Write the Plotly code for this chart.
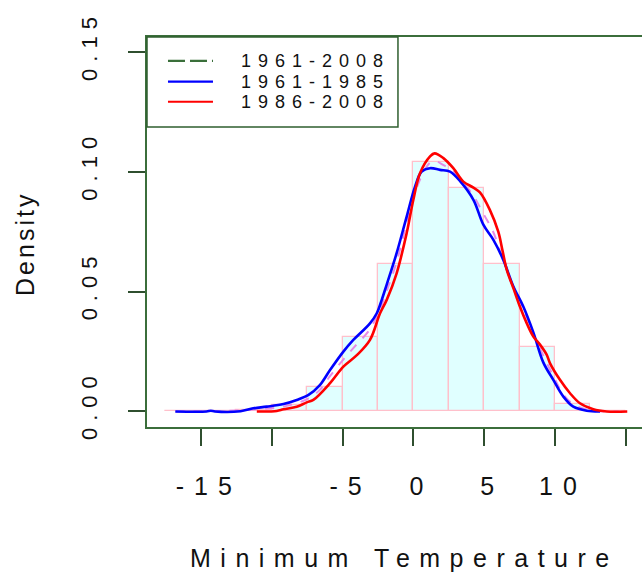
import plotly.graph_objects as go

# ---------------- data ----------------
bin_left = [-17.5, -15.0, -12.5, -10.0, -7.5, -5.0, -2.5, 0.0, 2.5, 5.0, 7.5, 10.0, 12.5]
bin_width = 2.5
hist_density = [0.0002, 0.0003, 0.0008, 0.0027, 0.0104, 0.031, 0.0616, 0.104,
                0.0933, 0.0615, 0.0268, 0.003, 0.0002]

all_x = [-16.8, -14.0, -12.2, -11.3, -10.3, -9.2, -8.2, -7.4, -6.6, -5.9, -4.9, -4.0,
         -3.1, -2.4, -1.9, -1.2, -0.5, 0.1, 0.6, 1.2, 1.6, 2.1, 2.8, 3.5, 4.2, 4.9,
         5.6, 6.3, 7.0, 7.7, 8.5, 9.2, 9.9, 10.6, 11.3, 12.2, 13.2, 14.5]
all_y = [0.0, 0.0002, 0.0004, 0.0008, 0.0012, 0.002, 0.0035, 0.0055, 0.009, 0.0146,
         0.022, 0.028, 0.034, 0.042, 0.05, 0.062, 0.078, 0.091, 0.0985, 0.104, 0.1045,
         0.103, 0.1005, 0.0955, 0.0905, 0.083, 0.0755, 0.064, 0.053, 0.044, 0.032,
         0.023, 0.0145, 0.007, 0.003, 0.0008, 0.0001, 0.0]

early_x = [-16.8, -14.6, -14.3, -14.0, -12.2, -11.3, -10.35, -9.17, -8.23, -7.4, -6.6,
           -5.88, -4.94, -4.3, -3.99, -3.06, -2.58, -2.23, -1.88, -1.18, -0.47, 0.12,
           0.59, 1.18, 1.88, 2.59, 3.3, 4.24, 4.94, 5.65, 6.35, 7.06, 7.76, 8.47, 9.17,
           9.88, 10.59, 11.29, 12.24, 13.18]
early_y = [0.0, 0.0, 0.0003, 0.0, 0.0001, 0.0013, 0.002, 0.0031, 0.0048, 0.0069, 0.011,
           0.0173, 0.025, 0.0295, 0.0313, 0.0368, 0.041, 0.0466, 0.053, 0.0661, 0.0814,
           0.0939, 0.1002, 0.1016, 0.1009, 0.1002, 0.0962, 0.0884, 0.078, 0.0717, 0.0633,
           0.0522, 0.0438, 0.033, 0.0205, 0.0132, 0.0062, 0.002, 0.0003, 0.0]

late_x = [-11.05, -9.64, -9.17, -8.23, -7.52, -7.06, -5.88, -4.94, -3.99, -3.06, -2.35,
          -1.88, -1.18, -0.47, 0.0, 0.47, 1.18, 1.5, 2.12, 2.82, 3.53, 4.24, 4.7, 5.4,
          6.0, 6.3, 6.6, 7.06, 7.52, 8.0, 8.47, 8.94, 9.41, 9.65, 10.35, 11.06, 11.76,
          12.7, 13.65, 15.1]
late_y = [0.0, 0.0002, 0.0009, 0.002, 0.0038, 0.0048, 0.0118, 0.0187, 0.0235, 0.0299,
          0.041, 0.0466, 0.0577, 0.0745, 0.0884, 0.0995, 0.1065, 0.1078, 0.1058, 0.1016,
          0.096, 0.0935, 0.0915, 0.0842, 0.075, 0.067, 0.059, 0.0515, 0.0438, 0.0369,
          0.0313, 0.0279, 0.0237, 0.0201, 0.0132, 0.0076, 0.0034, 0.0009, 0.0, 0.0]

x_tickvals = [-15, -10, -5, 0, 5, 10, 15]
x_ticklabels = ["-15", "", "-5", "0", "5", "10", ""]
y_tickvals = [0.0, 0.05, 0.10, 0.15]
y_ticklabels = ["0.00", "0.05", "0.10", "0.15"]
legend_labels = ["1961-2008", "1961-1985", "1986-2008"]

# ---------------- style ----------------
FONT = "Liberation Sans, Arial, sans-serif"
FRAME = "#3B6E3B"
TXT = "#111111"


def spaced(s, px):
    """letter-spaced text with no trailing gap after the last glyph"""
    if not s:
        return ""
    if len(s) == 1:
        return s
    return f'<span style="letter-spacing:{px}px">{s[:-1]}</span>{s[-1]}'


fig = go.Figure()

fig.add_trace(go.Bar(
    x=[b + bin_width / 2 for b in bin_left], y=hist_density, width=bin_width,
    marker=dict(color="#E0FFFF", line=dict(color="#FFC0CB", width=1.3)),
    showlegend=False, hoverinfo="skip"))

fig.add_trace(go.Scatter(x=all_x, y=all_y, mode="lines", line_shape="spline",
                         line=dict(color="#E68AE6", width=2, dash="dash"),
                         showlegend=False))
fig.add_trace(go.Scatter(x=early_x, y=early_y, mode="lines", line_shape="spline",
                         line=dict(color="#0000FF", width=2.6), showlegend=False))
fig.add_trace(go.Scatter(x=late_x, y=late_y, mode="lines", line_shape="spline",
                         line=dict(color="#FF0000", width=2.6), showlegend=False))

fig.update_layout(
    width=642, height=575,
    margin=dict(l=147, r=0, t=37, b=148),
    paper_bgcolor="white", plot_bgcolor="white",
    bargap=0, showlegend=False,
    font=dict(family=FONT, color=TXT),
    xaxis=dict(range=[-18.8, 16.14], showgrid=False, zeroline=False,
               showline=True, linecolor=FRAME, linewidth=1.5, mirror=True,
               ticks="outside", ticklen=17, tickwidth=1.5, tickcolor="#2F4F2F",
               tickvals=x_tickvals,
               ticktext=[spaced(t, 10) for t in x_ticklabels],
               tickfont=dict(size=25, family=FONT, color=TXT),
               ticklabelstandoff=19, ticklabelshift=3),
    yaxis=dict(range=[-0.0065, 0.1564], showgrid=False, zeroline=False,
               showline=True, linecolor=FRAME, linewidth=1.5,
               ticks="outside", ticklen=17, tickwidth=1.5, tickcolor="#2F4F2F",
               tickvals=y_tickvals,
               ticktext=[spaced(t, 7) for t in y_ticklabels],
               tickangle=-90,
               tickfont=dict(size=22, family=FONT, color=TXT),
               ticklabelstandoff=22),
)

# axis titles
fig.add_annotation(xref="paper", yref="paper", x=0.511, y=-0.336,
                   text=spaced("Minimum Temperature", 9.5), showarrow=False,
                   font=dict(size=25, family=FONT, color=TXT),
                   xanchor="center", yanchor="middle")
fig.add_annotation(xref="paper", yref="paper", x=-0.2465, y=0.4667,
                   text=spaced("Density", 3), showarrow=False, textangle=-90,
                   font=dict(size=25, family=FONT, color=TXT),
                   xanchor="center", yanchor="middle")

# legend box (top-left)
fig.add_shape(type="rect", xref="paper", yref="paper", x0=0, x1=0.507,
              y0=0.769, y1=1.0, line=dict(color="#2F5F2F", width=1.5),
              fillcolor="white", layer="above")
leg_y = [0.939, 0.8854, 0.834]
leg_col = ["#3A6F3A", "#0000FF", "#FF0000"]
leg_dash = ["17px,5px", "solid", "solid"]
for lab, yy, c, d in zip(legend_labels, leg_y, leg_col, leg_dash):
    fig.add_shape(type="line", xref="paper", yref="paper", x0=0.0424, x1=0.1333,
                  y0=yy, y1=yy, line=dict(color=c, width=2.2, dash=d), layer="above")
    fig.add_annotation(xref="paper", yref="paper", x=0.186, y=yy,
                       text=spaced(lab, 7), showarrow=False,
                       font=dict(size=18, family=FONT, color=TXT),
                       xanchor="left", yanchor="middle")

fig.write_html("out.html")
